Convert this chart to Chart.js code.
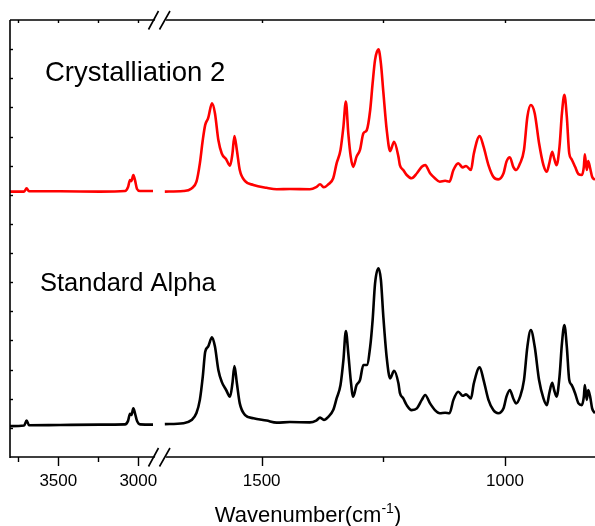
<!DOCTYPE html>
<html><head><meta charset="utf-8">
<script src="https://cdn.jsdelivr.net/npm/chart.js@4"></script>
<style>html,body{margin:0;padding:0;background:#fff}#wrap{width:595px;height:526px}</style>
</head><body><div id="wrap"><canvas id="c" width="595" height="526"></canvas></div>
<script>
// ---- data (wavenumber in cm-1, intensity in arbitrary offset units) ----
const leftWavenumbers = [3802,3714,3698,3683,3489,3239,3083,3064,3052,3043,3031,3021,3008,2989,2908];
const leftCrystal2 = [9.11,9.11,9.22,9.12,9.12,9.11,9.13,9.27,9.51,9.47,9.68,9.51,9.20,9.13,9.13];
const leftStandard = [1.06,1.08,1.25,1.09,1.10,1.11,1.12,1.24,1.48,1.44,1.67,1.51,1.24,1.12,1.11];

const rightWavenumbers = [1699,1661,1644,1634,1627,1621,1616,1610,1602,1596,1589,1582,1573,1565,1560,1556,1551,1545,1534,1517,1490,1469,1442,1401,1388,1380,1372,1363,1353,1346,1338,1332,1327,1322,1317,1312,1305,1298,1291,1284,1277,1272,1267,1260,1255,1250,1243,1236,1228,1219,1216,1209,1202,1192,1181,1171,1164,1154,1144,1134,1123,1114,1106,1096,1087,1080,1070,1064,1052,1044,1034,1024,1014,1003,997,990,983,977,969,961,954,947,939,930,921,914,909,903,899,894,888,883,878,873,868,863,856,849,842,838,836,832,829,825,821,815];
const rightCrystal2 = [9.11,9.13,9.22,9.45,10.08,10.88,11.40,11.63,12.14,11.80,
 10.88,10.42,10.22,10.00,10.42,11.02,10.54,9.85,9.47,9.34,
 9.24,9.19,9.20,9.19,9.26,9.36,9.26,9.36,9.57,10.08,
 10.54,11.34,12.20,11.11,10.31,9.96,10.31,10.54,11.11,11.22,
 11.91,12.83,13.63,13.99,13.51,12.53,11.22,10.50,10.82,10.31,
 10.02,9.85,9.68,9.57,9.74,9.96,10.02,9.74,9.57,9.45,
 9.48,9.45,9.85,10.08,9.94,9.99,9.85,10.42,11.02,10.65,
 10.02,9.62,9.53,9.74,10.14,10.29,9.96,9.85,10.08,10.54,
 11.68,12.08,11.80,10.77,10.02,9.79,10.08,10.48,10.25,10.02,
 10.65,11.80,12.43,11.68,10.42,10.22,9.96,9.71,9.68,9.96,
 10.39,9.85,10.16,9.91,9.62,9.51];
const rightStandard = [1.13,1.16,1.27,1.51,1.96,2.76,3.61,3.79,4.11,3.79,
 2.99,2.58,2.30,2.07,2.54,3.12,2.54,1.84,1.44,1.33,
 1.25,1.18,1.20,1.19,1.25,1.35,1.27,1.38,1.61,2.01,
 2.47,3.33,4.32,3.56,2.64,2.07,2.47,2.64,3.16,3.16,
 3.79,4.70,5.96,6.48,6.08,4.82,3.40,2.70,2.96,2.53,
 2.20,2.01,1.78,1.61,1.67,1.96,2.13,1.84,1.61,1.50,
 1.52,1.50,1.96,2.24,2.10,2.15,2.01,2.53,3.08,2.64,
 1.96,1.61,1.50,1.67,2.07,2.30,2.01,1.84,2.07,2.64,
 3.79,4.36,3.79,2.64,2.01,1.78,2.19,2.55,2.30,2.07,
 2.76,3.90,4.53,3.79,2.64,2.47,2.19,1.84,1.78,2.07,
 2.47,1.96,2.30,2.07,1.67,1.50];

const xTicks = [3750,3500,3250,3000,1500,1250,1000];
const xTickLabels = [3500,3000,1500,1000];
const seriesLabels = ['Crystalliation 2','Standard Alpha'];

// ---- broken-axis mapping (wavenumber -> axis coordinate) ----
function axisPos(w){ return w >= 2000 ? 128.3 + (3000 - w) * 0.16 : 495 + (1000 - w) * 0.48667; }
const BREAK_POS = 149;
function build(lw, ly, rw, ry){
  const pts = [];
  lw.forEach((w,i)=>pts.push({x: axisPos(w), y: ly[i]}));
  pts.push({x: BREAK_POS, y: null});
  rw.forEach((w,i)=>pts.push({x: axisPos(w), y: ry[i]}));
  return pts;
}

const FONT = '"Liberation Sans", Arial, sans-serif';

const decor = {
  id: 'decor',
  afterDraw(chart){
    const ctx = chart.ctx, a = chart.chartArea, xs = chart.scales.x, ys = chart.scales.y;
    ctx.save();
    ctx.strokeStyle = '#000'; ctx.fillStyle = '#000'; ctx.lineWidth = 1.6; ctx.lineCap = 'butt';
    // axis lines
    ctx.beginPath();
    ctx.moveTo(a.left, a.top); ctx.lineTo(a.left, a.bottom + 1);
    ctx.moveTo(a.left, a.top); ctx.lineTo(a.right, a.top);
    ctx.moveTo(a.left, a.bottom); ctx.lineTo(a.right, a.bottom);
    ctx.stroke();
    // x ticks
    ctx.lineWidth = 1.4;
    xTicks.forEach(w=>{
      const px = Math.round(xs.getPixelForValue(axisPos(w))) + 0.5;
      const len = xTickLabels.includes(w) ? 9 : 5;
      ctx.beginPath();
      ctx.moveTo(px, a.bottom); ctx.lineTo(px, a.bottom + len);
      ctx.moveTo(px, a.top); ctx.lineTo(px, a.top + 3);
      ctx.stroke();
    });
    // y ticks (inward)
    for (let v = ys.min + 1; v < ys.max; v++){
      const py = Math.round(ys.getPixelForValue(v)) + 0.5;
      ctx.beginPath(); ctx.moveTo(a.left, py); ctx.lineTo(a.left + 3, py); ctx.stroke();
    }
    // tick labels
    ctx.font = '17px ' + FONT; ctx.textAlign = 'center'; ctx.textBaseline = 'alphabetic';
    xTickLabels.forEach(w=>{
      ctx.fillText(String(w), xs.getPixelForValue(axisPos(w)), a.bottom + 29);
    });
    // break marks
    const bx = xs.getPixelForValue(BREAK_POS);
    [a.top, a.bottom].forEach(y0=>{
      ctx.fillStyle = '#fff';
      ctx.beginPath();
      ctx.moveTo(bx - 5, y0 + 3); ctx.lineTo(bx + 6, y0 + 3); ctx.lineTo(bx + 8, y0 - 3); ctx.lineTo(bx - 3, y0 - 3);
      ctx.closePath(); ctx.fill();
      ctx.strokeStyle = '#000'; ctx.lineWidth = 1.6;
      ctx.beginPath();
      ctx.moveTo(bx - 10.5, y0 + 9.5); ctx.lineTo(bx - 0.5, y0 - 9);
      ctx.moveTo(bx + 0.5, y0 + 9.5); ctx.lineTo(bx + 11, y0 - 9);
      ctx.stroke();
    });
    // series labels
    ctx.fillStyle = '#000'; ctx.textAlign = 'left';
    ctx.font = '27.5px ' + FONT;
    ctx.fillText(seriesLabels[0], 45, 81);
    ctx.font = '25.5px ' + FONT;
    ctx.fillText(seriesLabels[1], 40, 291);
    // x axis title with superscript
    const main = 'Wavenumber(cm', sup = '-1', close = ')';
    ctx.font = '22px ' + FONT; const w1 = ctx.measureText(main).width; const w3 = ctx.measureText(close).width;
    ctx.font = '14px ' + FONT; const w2 = ctx.measureText(sup).width;
    let tx = 308 - (w1 + w2 + w3) / 2;
    const base = 522;
    ctx.font = '22px ' + FONT; ctx.fillText(main, tx, base); tx += w1;
    ctx.font = '14px ' + FONT; ctx.fillText(sup, tx, base - 9); tx += w2;
    ctx.font = '22px ' + FONT; ctx.fillText(close, tx, base);
    ctx.restore();
  }
};

new Chart(document.getElementById('c'), {
  type: 'line',
  data: {
    datasets: [
      { label: seriesLabels[0], data: build(leftWavenumbers, leftCrystal2, rightWavenumbers, rightCrystal2),
        borderColor: '#ff0000', borderWidth: 2.6, pointRadius: 0, cubicInterpolationMode: 'monotone', spanGaps: false },
      { label: seriesLabels[1], data: build(leftWavenumbers, leftStandard, rightWavenumbers, rightStandard),
        borderColor: '#000000', borderWidth: 2.6, pointRadius: 0, cubicInterpolationMode: 'monotone', spanGaps: false }
    ]
  },
  options: {
    responsive: false, animation: false, devicePixelRatio: 1,
    layout: { padding: { left: 10, top: 20, right: 0, bottom: 69 } },
    plugins: { legend: { display: false }, tooltip: { enabled: false } },
    scales: {
      x: { type: 'linear', min: 0, max: 585, display: false },
      y: { type: 'linear', min: 0, max: 15, display: false }
    }
  },
  plugins: [decor]
});
</script>
</body></html>
